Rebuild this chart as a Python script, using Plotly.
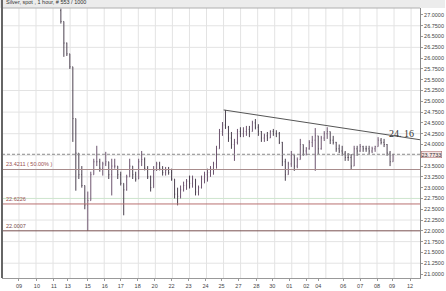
import plotly.graph_objects as go

# ---------------- data ----------------
title_text = "Silver, spot , 1 hour, # 553 / 1000"

# compressed hourly bars (index = bar number)
bar_high = [27.15, 26.80, 26.36, 26.08, 25.60, 24.60, 23.67, 23.50, 23.00, 22.91,
            23.37, 23.67, 23.97, 23.67, 23.60, 23.83, 23.60, 23.67, 23.67, 23.50,
            23.37, 23.10, 23.30, 23.67, 23.50, 23.37, 23.67, 23.85, 23.70, 23.50,
            23.28, 23.50, 23.60, 23.60, 23.50, 23.48, 23.48, 23.44, 23.20, 23.00,
            23.05, 23.14, 23.20, 23.28, 23.28, 23.09, 23.05, 23.28, 23.37, 23.44,
            23.50, 23.60, 23.97, 24.36, 24.52, 24.80, 24.43, 24.29, 24.13, 24.36,
            24.40, 24.40, 24.43, 24.43, 24.55, 24.59, 24.47, 24.31, 24.25, 24.29,
            24.33, 24.36, 24.33, 24.29, 24.06, 23.67, 23.60, 23.85, 23.75, 23.70,
            24.13, 24.00, 23.94, 24.10, 24.20, 24.38, 24.20, 24.20, 24.31, 24.40,
            24.30, 24.20, 24.06, 24.00, 23.97, 23.85, 23.80, 23.78, 23.97, 23.97,
            24.01, 23.97, 23.97, 23.97, 23.95, 23.97, 24.17, 24.15, 24.13, 24.01,
            23.85, 23.78]
bar_low = [26.80, 26.03, 26.05, 25.75, 24.06, 22.93, 23.20, 23.00, 22.50, 22.0007,
           22.80, 23.30, 23.50, 23.37, 23.28, 23.50, 23.20, 22.82, 23.44, 23.20,
           23.05, 22.36, 22.93, 23.25, 23.20, 23.14, 23.20, 23.50, 23.40, 23.20,
           22.91, 23.00, 23.39, 23.40, 23.28, 23.28, 23.30, 23.16, 22.75, 22.59,
           22.75, 22.91, 22.95, 22.98, 23.00, 22.82, 22.82, 22.98, 23.10, 23.14,
           23.25, 23.30, 23.44, 23.90, 24.20, 24.36, 24.06, 23.90, 23.62, 24.00,
           24.17, 24.17, 24.20, 24.17, 24.30, 24.35, 24.20, 24.06, 24.06, 24.08,
           24.15, 24.20, 24.17, 24.01, 23.50, 23.16, 23.30, 23.48, 23.39, 23.45,
           23.74, 23.74, 23.75, 23.88, 23.94, 23.39, 23.78, 23.88, 24.08, 24.13,
           24.01, 24.00, 23.83, 23.80, 23.74, 23.62, 23.62, 23.41, 23.50, 23.74,
           23.83, 23.83, 23.83, 23.78, 23.80, 23.83, 23.95, 24.00, 23.94, 23.74,
           23.50, 23.60]
bar_close = [26.85, 26.35, 26.10, 25.80, 24.60, 23.80, 23.30, 23.05, 22.60, 22.70,
             23.30, 23.60, 23.60, 23.45, 23.55, 23.60, 23.30, 23.50, 23.50, 23.30,
             23.10, 22.95, 23.25, 23.50, 23.30, 23.20, 23.60, 23.65, 23.45, 23.25,
             23.00, 23.40, 23.55, 23.45, 23.35, 23.40, 23.35, 23.20, 22.85, 22.80,
             22.95, 23.05, 23.15, 23.10, 23.20, 22.90, 23.00, 23.20, 23.30, 23.35,
             23.45, 23.55, 23.90, 24.30, 24.45, 24.40, 24.15, 24.00, 24.05, 24.30,
             24.25, 24.30, 24.35, 24.30, 24.50, 24.40, 24.30, 24.15, 24.20, 24.15,
             24.30, 24.25, 24.25, 24.05, 23.60, 23.30, 23.55, 23.75, 23.50, 23.65,
             24.00, 23.85, 23.90, 24.05, 24.10, 24.20, 23.90, 24.15, 24.25, 24.30,
             24.10, 24.05, 23.90, 23.85, 23.80, 23.70, 23.70, 23.50, 23.90, 23.85,
             23.95, 23.90, 23.90, 23.85, 23.90, 23.95, 24.10, 24.05, 24.00, 23.80,
             23.60, 23.7733]
first_open = 27.10

# day labels on the time axis
day_labels = ["09", "10", "11", "13", "15", "16", "17", "18", "20", "22", "23", "24",
              "25", "27", "28", "30", "01", "02", "04", "06", "07", "08", "09", "12"]

# levels
last_price = 23.7733
fib_50 = 23.4211
level_mid = 22.6226
level_low = 22.0007
level_green = 22.75

# trend line (bar index, price)
trend_x = [54.4, 120.0]
trend_y = [24.80, 24.11]
trend_label = "24. 16"

y_tick_vals = [21 + 0.25 * k for k in range(25)]

# ---------------- layout helpers ----------------
def px_to_bar(p):
    return (p - 61) / 3.0

day_label_px = [19, 37, 54, 68, 88, 105, 121, 138, 155, 172, 189, 206,
                222, 239, 257, 273, 290, 307, 319, 344, 361, 378, 393, 411]
tick_pos = [px_to_bar(p) for p in day_label_px]
grid_x = [px_to_bar(19 + 17.09 * k) for k in range(24)]
grid_y = [21.25 + 0.5 * k for k in range(12)]

bar_open = [first_open] + bar_close[:-1]
bar_x = list(range(len(bar_close)))
hi = [max(h, o, c) for h, o, c in zip(bar_high, bar_open, bar_close)]
lo = [min(l, o, c) for l, o, c in zip(bar_low, bar_open, bar_close)]

# the last-price box covers the nearby tick label
y_tick_text = ["" if abs(v - last_price) < 0.1 else f"{v:.4f}" for v in y_tick_vals]

FONT = "Liberation Sans"
fig = go.Figure()

fig.add_trace(go.Ohlc(
    x=bar_x, open=bar_open, high=hi, low=lo, close=bar_close,
    increasing=dict(line=dict(color="#6e5670", width=1)),
    decreasing=dict(line=dict(color="#4c4250", width=1)),
    tickwidth=0.2, hoverinfo="skip"))

fig.add_trace(go.Scatter(x=trend_x, y=trend_y, mode="lines",
                         line=dict(color="#555555", width=1), hoverinfo="skip"))

shapes = []
for gx in grid_x:
    shapes.append(dict(type="line", xref="x", yref="paper", x0=gx, x1=gx, y0=0, y1=1,
                       line=dict(color="#e3e3e3", width=1), layer="below"))
for gy in grid_y:
    shapes.append(dict(type="line", xref="paper", yref="y", x0=0, x1=1, y0=gy, y1=gy,
                       line=dict(color="#e3e3e3", width=1), layer="below"))
shapes.append(dict(type="line", xref="paper", yref="y", x0=0, x1=1, y0=level_green, y1=level_green,
                   line=dict(color="#cfe6cf", width=1), layer="below"))
shapes.append(dict(type="line", xref="paper", yref="y", x0=0, x1=1, y0=fib_50, y1=fib_50,
                   line=dict(color="#a88c8c", width=1.2)))
shapes.append(dict(type="line", xref="paper", yref="y", x0=0, x1=1, y0=level_mid, y1=level_mid,
                   line=dict(color="#b87070", width=1)))
shapes.append(dict(type="line", xref="paper", yref="y", x0=0, x1=1, y0=level_low, y1=level_low,
                   line=dict(color="#7a5050", width=1)))
shapes.append(dict(type="line", xref="paper", yref="y", x0=0, x1=1, y0=last_price, y1=last_price,
                   line=dict(color="#8a8a8a", width=1, dash="3px,2px")))
# frame
shapes.append(dict(type="rect", xref="paper", yref="paper", x0=-0.01, x1=1.06, y0=1, y1=1.03,
                   fillcolor="#ececec", line=dict(width=0), layer="below"))
shapes.append(dict(type="line", xref="paper", yref="paper", x0=0, x1=1, y0=1, y1=1,
                   line=dict(color="#b0b0b0", width=1)))
shapes.append(dict(type="line", xref="paper", yref="paper", x0=0, x1=0, y0=0, y1=1.03,
                   line=dict(color="#666666", width=2)))

txt = dict(family=FONT, size=5.5, color="#333333")
annotations = [
    dict(text=title_text, xref="paper", yref="paper", x=0.005, y=1.0, yshift=1,
         xanchor="left", yanchor="bottom", showarrow=False, font=txt),
    dict(text=f"{fib_50:.4f} ( 50.00% )", xref="paper", yref="y", x=0.005, y=fib_50,
         xanchor="left", yanchor="bottom", showarrow=False,
         font=dict(family=FONT, size=5.5, color="#9a5050")),
    dict(text=f"{level_mid:.4f}", xref="paper", yref="y", x=0.005, y=level_mid,
         xanchor="left", yanchor="bottom", showarrow=False,
         font=dict(family=FONT, size=5.5, color="#9a5050")),
    dict(text=f"{level_low:.4f}", xref="paper", yref="y", x=0.005, y=level_low,
         xanchor="left", yanchor="bottom", showarrow=False,
         font=dict(family=FONT, size=5.5, color="#7a4a4a")),
    dict(text=f"{last_price:.4f}", xref="paper", yref="y", x=1.0, y=last_price, xshift=1,
         xanchor="left", yanchor="middle", showarrow=False,
         bgcolor="#f6e4e4", bordercolor="#a06060", borderwidth=0.5, borderpad=0,
         font=dict(family=FONT, size=5.5, color="#333333")),
    dict(text=trend_label, x=113.7, y=24.264, xref="x", yref="y",
         xanchor="center", yanchor="middle", showarrow=False,
         font=dict(family="Liberation Serif", size=10, color="#333333")),
]

fig.update_layout(
    width=446, height=291,
    margin=dict(l=2, r=25, t=8, b=11),
    paper_bgcolor="white", plot_bgcolor="white",
    showlegend=False,
    shapes=shapes, annotations=annotations,
    xaxis=dict(range=[px_to_bar(2), px_to_bar(421)], tickvals=tick_pos, ticktext=day_labels,
               showgrid=False, zeroline=False, ticks="outside", ticklen=2, tickcolor="#999",
               tickfont=dict(family=FONT, size=5.5, color="#444"), tickangle=0,
               showline=True, linecolor="#999", linewidth=1,
               rangeslider=dict(visible=False), fixedrange=True),
    yaxis=dict(range=[20.908, 27.161], side="right", tickvals=y_tick_vals,
               ticktext=y_tick_text,
               showgrid=False, zeroline=False, ticks="outside", ticklen=2, tickcolor="#999",
               tickfont=dict(family=FONT, size=5.5, color="#444"),
               showline=True, linecolor="#888", linewidth=1, fixedrange=True),
)

fig.write_html("out.html")
